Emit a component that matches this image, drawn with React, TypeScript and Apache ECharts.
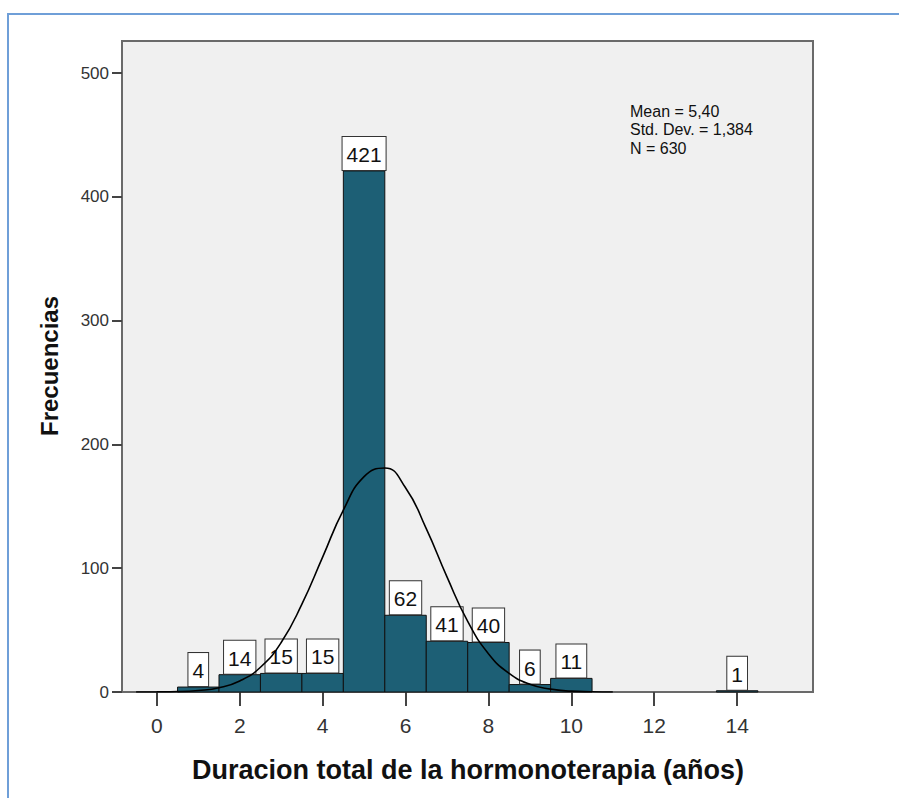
import React, { useEffect, useRef } from "react";
import * as echarts from "echarts";

// Histogram bins (centre of each 1-year bin) and frequencies
const binCenters = [1, 2, 3, 4, 5, 6, 7, 8, 9, 10, 14];
const frequencies = [4, 14, 15, 15, 421, 62, 41, 40, 6, 11, 1];

// Normal curve
const curveX = [-0.5, 0, 0.5, 1, 1.5, 2, 2.5, 3, 3.5, 4, 4.5, 5, 5.5, 6, 6.5, 7, 7.5, 8, 8.5, 9, 9.5, 10, 10.5, 11];
const curveY = [0, 0.1, 0.3, 1.2, 3.4, 8.9, 20, 40, 71, 109, 147, 174, 181, 165, 132, 93, 57, 31, 15, 6.2, 2.3, 0.7, 0.2, 0];

const xTicks = [0, 2, 4, 6, 8, 10, 12, 14];
const yTicks = [0, 100, 200, 300, 400, 500];
const statsLines = ["Mean = 5,40", "Std. Dev. = 1,384", "N = 630"];

const xTitle = "Duracion total de la hormonoterapia (años)";
const yTitle = "Frecuencias";

const FONT = '"Liberation Sans", Arial, sans-serif';

export default function App() {
  const ref = useRef<HTMLDivElement>(null);
  useEffect(() => {
    if (!ref.current) return;
    const chart = echarts.init(ref.current, null, { renderer: "svg" });
    const barData = binCenters.map((c, i) => [c, frequencies[i]]);
    const curveData = curveX.map((x, i) => [x, curveY[i]]);
    chart.setOption({
      animation: false,
      backgroundColor: "#ffffff",
      grid: {
        left: 122,
        right: 86,
        top: 41,
        bottom: 106,
        show: true,
        backgroundColor: "#f0f0f0",
        borderColor: "#6a6a6a",
        borderWidth: 2,
      },
      xAxis: {
        type: "value",
        min: -0.84,
        max: 15.83,
        axisLine: { show: false, onZero: false },
        splitLine: { show: false },
        axisTick: {
          show: true,
          customValues: xTicks,
          length: 14,
          lineStyle: { color: "#444", width: 2 },
        },
        axisLabel: {
          customValues: xTicks,
          fontFamily: FONT,
          fontSize: 21,
          color: "#333",
          margin: 23,
        },
      },
      yAxis: {
        type: "value",
        min: 0,
        max: 526,
        axisLine: { show: false, onZero: false },
        splitLine: { show: false },
        axisTick: {
          show: true,
          customValues: yTicks,
          length: 10,
          lineStyle: { color: "#444", width: 2 },
        },
        axisLabel: {
          customValues: yTicks,
          fontFamily: FONT,
          fontSize: 17,
          color: "#333",
          margin: 13,
        },
      },
      series: [
        {
          type: "custom",
          z: 2,
          data: barData,
          renderItem: (params: any, api: any) => {
            const x = api.value(0);
            const y = api.value(1);
            const p0 = api.coord([x - 0.5, y]);
            const p1 = api.coord([x + 0.5, 0]);
            return {
              type: "group",
              children: [
                {
                  type: "rect",
                  shape: { x: p0[0], y: p0[1], width: p1[0] - p0[0], height: p1[1] - p0[1] },
                  style: { fill: "#1d5f75", stroke: "#111", lineWidth: 1 },
                },
                {
                  type: "text",
                  x: (p0[0] + p1[0]) / 2,
                  y: p0[1] - 1,
                  style: {
                    text: String(y),
                    align: "center",
                    verticalAlign: "bottom",
                    fontFamily: FONT,
                    fontSize: 21,
                    fill: "#111",
                    backgroundColor: "#ffffff",
                    borderColor: "#333",
                    borderWidth: 1,
                    padding: [7, 4, 5, 4],
                  },
                },
              ],
            };
          },
        },
        {
          type: "line",
          z: 5,
          data: curveData,
          smooth: 0.5,
          symbol: "none",
          lineStyle: { color: "#000", width: 1.6 },
        },
      ],
      graphic: [
        {
          type: "rect",
          x: 8,
          y: 14,
          shape: { x: 0, y: 0, width: 1000, height: 1000 },
          style: { fill: "none", stroke: "#6f9fd8", lineWidth: 2 },
          silent: true,
        },
        {
          type: "text",
          x: 630,
          y: 102,
          style: {
            text: statsLines.join("\n"),
            fontFamily: FONT,
            fontSize: 16,
            lineHeight: 18.5,
            fill: "#111",
            verticalAlign: "top",
            align: "left",
          },
        },
        {
          type: "text",
          x: 468,
          y: 770,
          style: {
            text: xTitle,
            fontFamily: FONT,
            fontSize: 27,
            fontWeight: "bold",
            fill: "#111",
            align: "center",
            verticalAlign: "middle",
          },
        },
        {
          type: "text",
          x: 49,
          y: 366,
          rotation: Math.PI / 2,
          style: {
            text: yTitle,
            fontFamily: FONT,
            fontSize: 24,
            fontWeight: "bold",
            fill: "#111",
            align: "center",
            verticalAlign: "middle",
          },
        },
      ],
    });
    return () => chart.dispose();
  }, []);
  return (
    <div
      ref={ref}
      style={{ position: "absolute", left: 0, top: 0, width: 899, height: 798 }}
    />
  );
}
